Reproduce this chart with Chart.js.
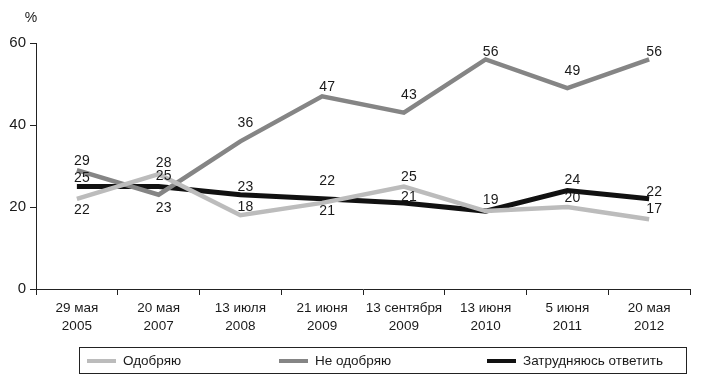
<!DOCTYPE html>
<html>
<head>
<meta charset="utf-8">
<script src="https://cdn.jsdelivr.net/npm/chart.js@4"></script>
<style>
  html, body { margin: 0; padding: 0; background: #fff; }
  canvas { display: block; }
</style>
</head>
<body>
<canvas id="chart" width="702" height="387"></canvas>
<script>
// даты опросов
const dates = [
  ['29 мая', '2005'],
  ['20 мая', '2007'],
  ['13 июля', '2008'],
  ['21 июня', '2009'],
  ['13 сентября', '2009'],
  ['13 июня', '2010'],
  ['5 июня', '2011'],
  ['20 мая', '2012'],
];

const approve = [22, 28, 18, 21, 25, 19, 20, 17];
const disapprove = [29, 23, 36, 47, 43, 56, 49, 56];
const undecided = [25, 25, 23, 22, 21, 19, 24, 22];

const yTicks = [0, 20, 40, 60];

// сдвиг подписей значений по вертикали (px)
const approveDy = [11, -11, -8, 8, -9, -11, -9, -10];
const disapproveDy = [-9, 13, -18, -9, -18, -7, -17, -7];
const undecidedDy = [-8, -10, -8, -18, -6, null, -10, -7]; // 19 в 2010 общая с «Одобряю»

const FONT = "'Liberation Sans', Arial, sans-serif";
const TEXT = '#1a1a1a';

const valueLabels = {
  id: 'valueLabels',
  afterDatasetsDraw(chart) {
    const ctx = chart.ctx;
    ctx.save();
    ctx.font = '14px ' + FONT;
    ctx.fillStyle = TEXT;
    ctx.textAlign = 'center';
    ctx.textBaseline = 'middle';
    chart.data.datasets.forEach((ds, i) => {
      const meta = chart.getDatasetMeta(i);
      meta.data.forEach((pt, j) => {
        const dy = ds.labelDy[j];
        if (dy === null) return;
        ctx.fillText(String(ds.data[j]), pt.x + 5, pt.y + dy);
      });
    });
    ctx.restore();
  },
};

const extras = {
  id: 'extras',
  afterDraw(chart) {
    const ctx = chart.ctx;
    ctx.save();
    ctx.font = '14px ' + FONT;
    ctx.fillStyle = TEXT;
    ctx.textBaseline = 'middle';
    ctx.textAlign = 'center';
    ctx.fillText('%', 31, 18);

    // легенда в рамке
    ctx.font = '13.5px ' + FONT;
    ctx.strokeStyle = '#222';
    ctx.lineWidth = 1;
    ctx.strokeRect(79.5, 347.5, 607, 26);
    const starts = [87, 279, 487];
    ctx.textAlign = 'left';
    chart.data.datasets.forEach((ds, i) => {
      const x = starts[i];
      ctx.strokeStyle = ds.borderColor;
      ctx.lineWidth = 4;
      ctx.beginPath();
      ctx.moveTo(x, 361);
      ctx.lineTo(x + 29, 361);
      ctx.stroke();
      ctx.fillText(ds.label, x + 36, 361);
    });
    ctx.restore();
  },
};

new Chart(document.getElementById('chart'), {
  type: 'line',
  data: {
    labels: dates,
    datasets: [
      { label: 'Одобряю', data: approve, labelDy: approveDy, borderColor: '#bcbcbc', borderWidth: 4.5 },
      { label: 'Не одобряю', data: disapprove, labelDy: disapproveDy, borderColor: '#858585', borderWidth: 4.5 },
      { label: 'Затрудняюсь ответить', data: undecided, labelDy: undecidedDy, borderColor: '#111111', borderWidth: 5 },
    ],
  },
  options: {
    responsive: false,
    animation: false,
    devicePixelRatio: 1,
    elements: { point: { radius: 0 }, line: { tension: 0, borderJoinStyle: 'miter' } },
    layout: { padding: { left: 0, right: 12, top: 43, bottom: 40 } },
    plugins: { legend: { display: false }, tooltip: { enabled: false } },
    scales: {
      x: {
        offset: true,
        afterFit: (s) => { s.height = 58; },
        grid: { offset: true, drawOnChartArea: false, tickLength: 6, color: '#222' },
        border: { color: '#222', width: 1 },
        ticks: { color: TEXT, padding: 5, maxRotation: 0, autoSkip: false, font: { family: FONT, size: 13.5, lineHeight: 1.3 } },
      },
      y: {
        min: 0,
        max: 60,
        afterFit: (s) => { s.width = 36; },
        afterBuildTicks: (s) => { s.ticks = yTicks.map((v) => ({ value: v })); },
        grid: { drawOnChartArea: false, tickLength: 6, color: '#222' },
        border: { color: '#222', width: 1 },
        ticks: { color: TEXT, padding: 4, font: { family: FONT, size: 15 } },
      },
    },
  },
  plugins: [valueLabels, extras],
});
</script>
</body>
</html>
